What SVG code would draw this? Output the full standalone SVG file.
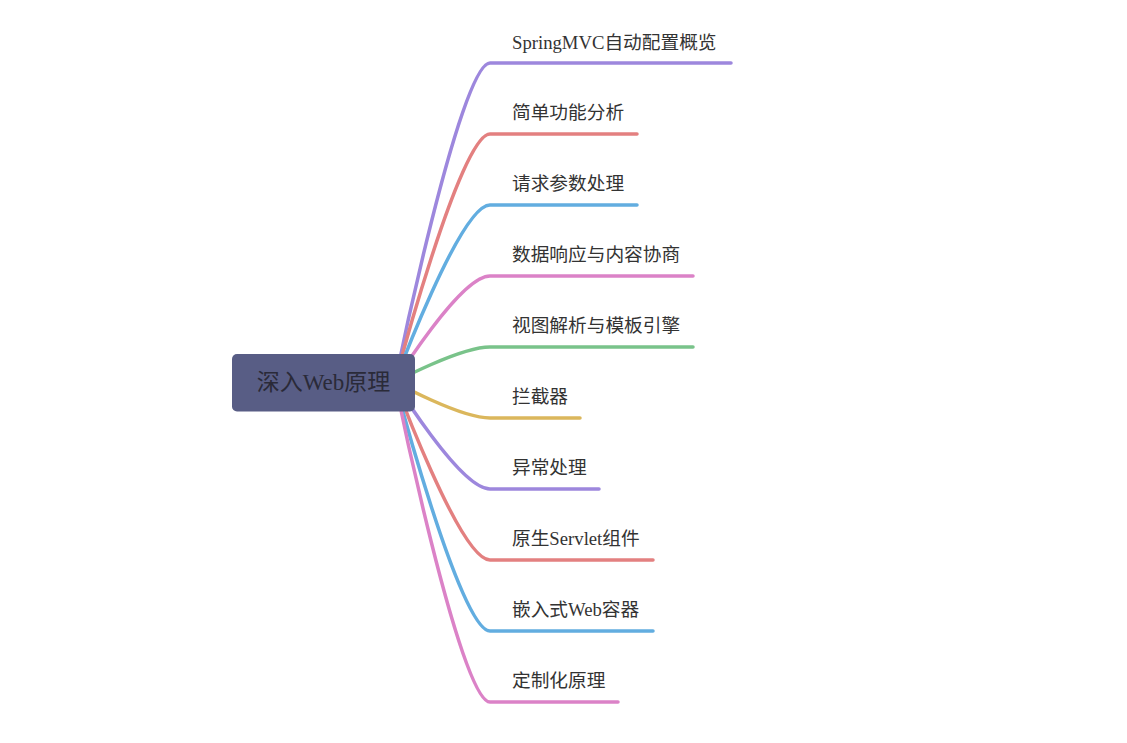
<svg xmlns="http://www.w3.org/2000/svg" width="1127" height="743" viewBox="0 0 1127 743">
<style>
.l{fill:none;stroke-width:3.5;stroke-linecap:round}
.t{font-family:"Liberation Serif","Noto Sans CJK SC",serif;font-size:18.7px;fill:#333}
.rt{font-family:"Liberation Serif","Noto Sans CJK SC",serif;font-size:23px;fill:#2a2a38;text-anchor:middle}
</style>
<rect width="1127" height="743" fill="#fff"/>
<g id="connectors">
<path class="l" stroke="#9d87dd" d="M395 382 C395 382 460 63 490 63 L731 63"/>
<path class="l" stroke="#e38080" d="M395 382 C395 382 460 134 490 134 L637 134"/>
<path class="l" stroke="#62ade0" d="M395 382 C395 382 460 205 490 205 L637 205"/>
<path class="l" stroke="#db82c7" d="M395 382 C395 382 460 276 490 276 L693 276"/>
<path class="l" stroke="#79c38a" d="M395 382 C395 382 460 347 490 347 L693 347"/>
<path class="l" stroke="#dbb75c" d="M395 382 C395 382 460 418 490 418 L580 418"/>
<path class="l" stroke="#9d87dd" d="M395 382 C395 382 460 489 490 489 L599 489"/>
<path class="l" stroke="#e38080" d="M395 382 C395 382 460 560 490 560 L653 560"/>
<path class="l" stroke="#62ade0" d="M395 382 C395 382 460 631 490 631 L653 631"/>
<path class="l" stroke="#db82c7" d="M395 382 C395 382 460 702 490 702 L618 702"/>
</g>
<g id="root">
<rect x="232" y="354" width="183" height="57.5" rx="5" fill="#585d85"/>
<text class="rt" x="323.5" y="390">深入Web原理</text>
</g>
<g id="n1"><text class="t" x="512" y="49">SpringMVC自动配置概览</text></g>
<g id="n2"><text class="t" x="512" y="119">简单功能分析</text></g>
<g id="n3"><text class="t" x="512" y="190">请求参数处理</text></g>
<g id="n4"><text class="t" x="512" y="261">数据响应与内容协商</text></g>
<g id="n5"><text class="t" x="512" y="332">视图解析与模板引擎</text></g>
<g id="n6"><text class="t" x="512" y="403">拦截器</text></g>
<g id="n7"><text class="t" x="512" y="474">异常处理</text></g>
<g id="n8"><text class="t" x="512" y="545">原生Servlet组件</text></g>
<g id="n9"><text class="t" x="512" y="616">嵌入式Web容器</text></g>
<g id="n10"><text class="t" x="512" y="687">定制化原理</text></g>
</svg>
